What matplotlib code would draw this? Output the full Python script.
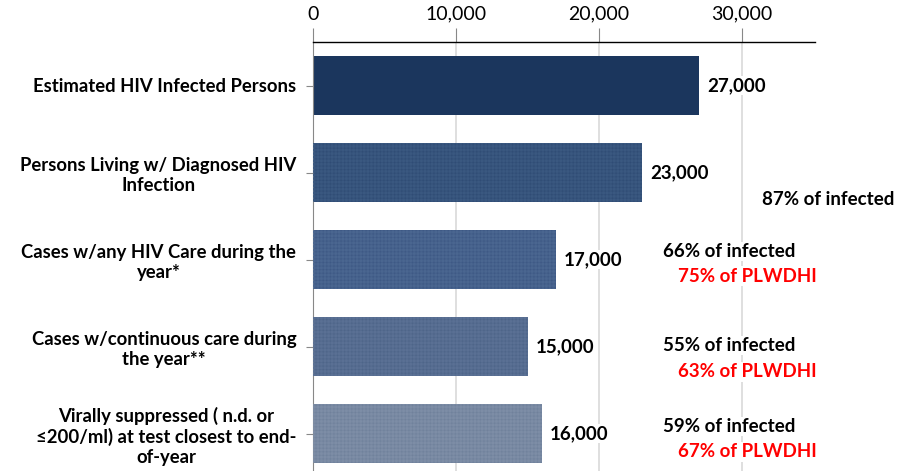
import matplotlib.pyplot as plt

plt.rcParams['font.family'] = ['Lato', 'DejaVu Sans']
plt.rcParams['hatch.linewidth'] = 0.4

categories = [
    "Estimated HIV Infected Persons",
    "Persons Living w/ Diagnosed HIV\nInfection",
    "Cases w/any HIV Care during the\nyear*",
    "Cases w/continuous care during\nthe year**",
    "Virally suppressed ( n.d. or\n\u2264200/ml) at test closest to end-\nof-year",
]
values = [27000, 23000, 17000, 15000, 16000]
value_labels = ["27,000", "23,000", "17,000", "15,000", "16,000"]
pct_infected = [None, "87% of infected", "66% of infected", "55% of infected", "59% of infected"]
pct_plwdhi = [None, None, "75% of PLWDHI", "63% of PLWDHI", "67% of PLWDHI"]
xticks = [0, 10000, 20000, 30000]
xtick_labels = ["0", "10,000", "20,000", "30,000"]

bar_colors = ["#1B365D", "#2B4770", "#385380", "#486084", "#6A7C97"]
hatch_colors = [None, "#3A5880", "#4A6690", "#5A7094", "#7D8DA6"]

fig = plt.figure(figsize=(9.19, 4.71), dpi=100)
ax = fig.add_axes([313 / 919, 0, 502 / 919, 429 / 471])

y = list(range(len(categories)))
ax.barh(y, values, height=0.68, color=bar_colors, linewidth=0, zorder=2)
for yi, v, hc in zip(y, values, hatch_colors):
    if hc:
        ax.barh(yi, v, height=0.68, facecolor="none", edgecolor=hc,
                hatch="+" * 12, linewidth=0, zorder=3)

for yi, v, lab in zip(y, values, value_labels):
    ax.text(v + 550, yi, lab, ha="left", va="center", fontsize=13.5,
            fontweight="bold", color="black", zorder=4,
            bbox=dict(facecolor="white", edgecolor="none", pad=1))

# percent annotations (positions in data units)
inf_pos = [None, (31400, 1.31), (24480, 1.91), (24480, 2.99), (24480, 3.92)]
plw_pos = [None, None, (25520, 2.19), (25520, 3.29), (25520, 4.21)]
for txt, pos in zip(pct_infected, inf_pos):
    if txt:
        ax.text(pos[0], pos[1], txt, ha="left", va="center", fontsize=13.5,
                fontweight="bold", color="black", clip_on=False, zorder=4,
                bbox=dict(facecolor="white", edgecolor="none", pad=1))
for txt, pos in zip(pct_plwdhi, plw_pos):
    if txt:
        ax.text(pos[0], pos[1], txt, ha="left", va="center", fontsize=13.5,
                fontweight="bold", color="#FF0000", clip_on=False, zorder=4,
                bbox=dict(facecolor="white", edgecolor="none", pad=1))

ax.set_xlim(0, 35100)
ax.set_ylim(4.5 - 6 / 87, -0.5)
ax.xaxis.tick_top()
ax.set_xticks(xticks)
ax.set_xticklabels(xtick_labels, fontsize=14)
ax.tick_params(axis="x", direction="out", length=10, color="#888888", pad=4)
ax.set_yticks(y)
ax.set_yticklabels(categories, fontsize=13.3, fontweight="bold",
                   multialignment="center")
ax.tick_params(axis="y", direction="out", length=5, color="#888888", pad=7)

ax.spines["bottom"].set_visible(False)
ax.spines["right"].set_visible(False)
ax.spines["top"].set_color("black")
ax.spines["top"].set_linewidth(1.0)
ax.spines["left"].set_color("#888888")
ax.grid(axis="x", color="#D9D9D9", linewidth=1.2, zorder=0)
ax.set_axisbelow(True)

fig.savefig("out.png", dpi=100)
